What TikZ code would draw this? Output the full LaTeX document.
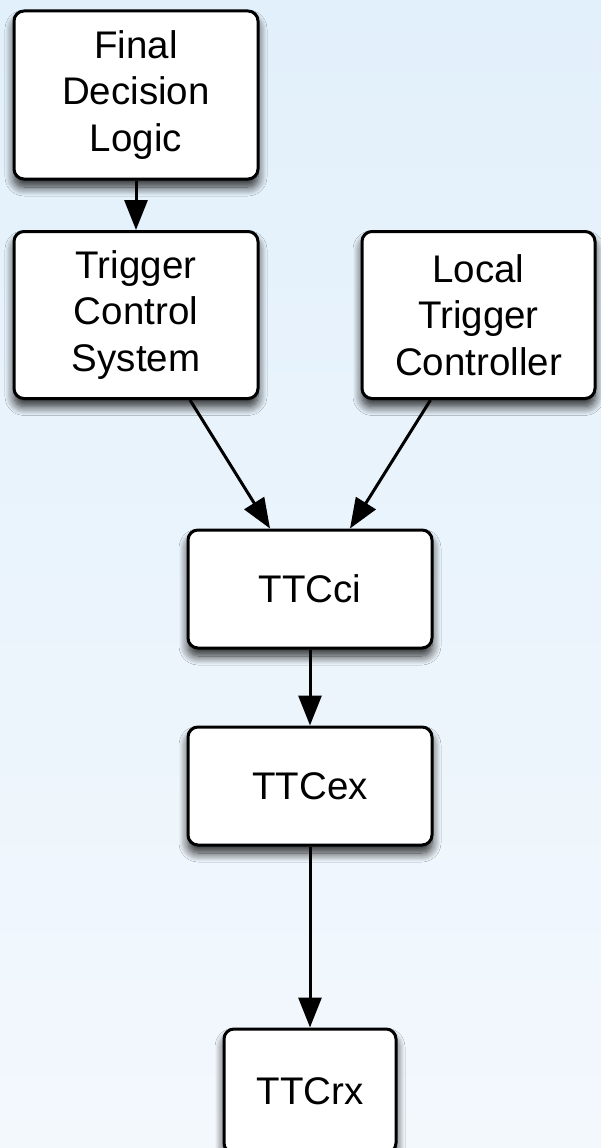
\documentclass[tikz,border=0pt]{standalone}
\usepackage{fontspec}
\setmainfont{Liberation Sans}
\usetikzlibrary{arrows.meta,calc,shadows.blur}
\definecolor{bgtop}{RGB}{226,240,251}
\definecolor{bgbot}{RGB}{243,248,253}
\tikzset{
  box/.style={draw=black, line width=3pt, fill=white, rounded corners=10pt,
    align=center, inner sep=0pt,
    font=\fontsize{38.5}{46.5}\selectfont,
    blur shadow={shadow xshift=0pt, shadow yshift=-8pt, shadow blur radius=9pt, shadow blur steps=12, shadow opacity=85}},
  conn/.style={line width=3pt, -{Triangle[length=30pt,width=23pt]}},
}
\begin{document}
\begin{tikzpicture}[x=1pt,y=1pt]
\shade[top color=bgtop, bottom color=bgbot] (0,0) rectangle (601,-1148);
\useasboundingbox (0,0) rectangle (601,-1148);
\node[box, minimum width=244pt, minimum height=168pt] (fdl) at (136,-95) {Final\\Decision\\Logic};
\node[box, minimum width=244pt, minimum height=167pt] (tcs) at (136,-315) {Trigger\\Control\\System};
\node[box, minimum width=233pt, minimum height=167pt] (ltc) at (478.5,-315) {Local\\Trigger\\Controller};
\node[box, minimum width=244pt, minimum height=118pt] (ci) at (310,-589) {TTCci};
\node[box, minimum width=244pt, minimum height=118pt] (ex) at (310,-786) {TTCex};
\node[box, minimum width=172pt, minimum height=124pt] (rx) at (310,-1091) {TTCrx};
\draw[conn] (fdl.south) -- (tcs.north);
\draw[conn] ($(tcs.south)+(54,0)$) -- ($(ci.north)+(-40,0)$);
\draw[conn] ($(ltc.south)+(-48,0)$) -- ($(ci.north)+(40,0)$);
\draw[conn] (ci.south) -- (ex.north);
\draw[conn] (ex.south) -- (rx.north);
\end{tikzpicture}
\end{document}
